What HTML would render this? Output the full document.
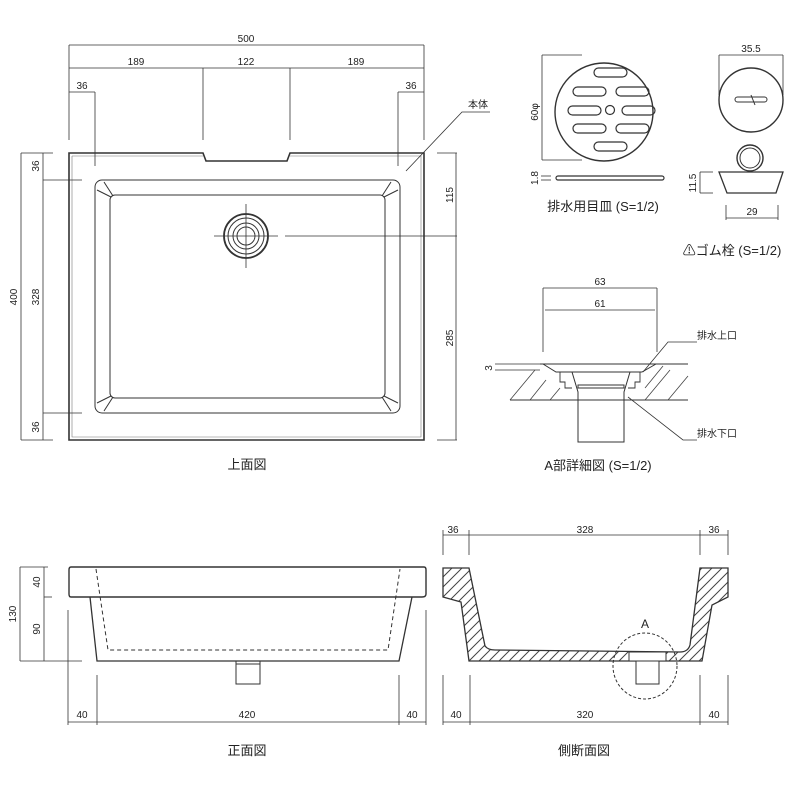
<!DOCTYPE html>
<html><head><meta charset="utf-8"><style>
html,body{margin:0;padding:0;background:#fff}
svg{display:block}
text{font-family:"Liberation Sans","Noto Sans CJK JP",sans-serif;fill:#222}
.d{font-size:10px}
.t{font-size:13px}
</style></head><body>
<svg width="800" height="800" viewBox="0 0 800 800" xmlns="http://www.w3.org/2000/svg">
<defs>
<pattern id="h" width="10" height="10" patternUnits="userSpaceOnUse">
<rect width="10" height="10" fill="#fff"/><path d="M-1 11 L11 -1 M-3 3 L3 -3 M7 13 L13 7" stroke="#444" stroke-width="1"/>
</pattern>
</defs>
<g fill="none" stroke="#333" stroke-width="1">
<!-- TOP VIEW -->
<path d="M69 153 H203 L206 161 H287 L290 153 H424 V440 H69 Z" stroke-width="1.6"/>
<path d="M72 156 H203 M290 156 H421 V437 H72 V156" stroke="#777" stroke-width="0.6"/>
<rect x="95" y="180" width="305" height="233" rx="7"/>
<rect x="110" y="195" width="275" height="203" rx="5"/>
<line x1="97" y1="190" x2="111" y2="197"/><line x1="104" y1="182" x2="113" y2="196"/>
<line x1="398" y1="190" x2="384" y2="197"/><line x1="391" y1="182" x2="382" y2="196"/>
<line x1="97" y1="403" x2="111" y2="396"/><line x1="104" y1="411" x2="113" y2="397"/>
<line x1="398" y1="403" x2="384" y2="396"/><line x1="391" y1="411" x2="382" y2="397"/>
<circle cx="246" cy="236" r="22" stroke-width="1.8"/>
<circle cx="246" cy="236" r="18"/><circle cx="246" cy="236" r="13"/><circle cx="246" cy="236" r="9"/>
<line x1="214" y1="236" x2="278" y2="236" stroke-width="0.8"/><line x1="246" y1="204" x2="246" y2="268" stroke-width="0.8"/>
<line x1="285" y1="236" x2="457" y2="236" stroke-width="0.8"/>
<g stroke-width="0.8">
<line x1="69" y1="45" x2="424" y2="45"/><line x1="69" y1="68" x2="424" y2="68"/>
<line x1="69" y1="92" x2="95" y2="92"/><line x1="398" y1="92" x2="424" y2="92"/>
<line x1="69" y1="45" x2="69" y2="140"/><line x1="424" y1="45" x2="424" y2="140"/>
<line x1="203" y1="68" x2="203" y2="140"/><line x1="290" y1="68" x2="290" y2="140"/>
<line x1="95" y1="92" x2="95" y2="166"/><line x1="398" y1="92" x2="398" y2="166"/>
<line x1="21" y1="153" x2="53" y2="153"/><line x1="21" y1="440" x2="53" y2="440"/>
<line x1="21" y1="153" x2="21" y2="440"/><line x1="43" y1="153" x2="43" y2="440"/>
<line x1="43" y1="180" x2="82" y2="180"/><line x1="43" y1="413" x2="82" y2="413"/>
<line x1="437" y1="153" x2="457" y2="153"/><line x1="437" y1="440" x2="457" y2="440"/>
<line x1="456" y1="153" x2="456" y2="440"/>
<polyline points="406,171 462,112 490,112"/>
</g>
<!-- GRATE -->
<circle cx="604" cy="112" r="49" stroke-width="1.4"/>
<g stroke-width="1.2">
<rect x="594" y="68" width="33" height="9" rx="4.5"/>
<rect x="573" y="87" width="33" height="9" rx="4.5"/><rect x="616" y="87" width="33" height="9" rx="4.5"/>
<rect x="568" y="106" width="33" height="9" rx="4.5"/><rect x="622" y="106" width="33" height="9" rx="4.5"/>
<rect x="573" y="124" width="33" height="9" rx="4.5"/><rect x="616" y="124" width="33" height="9" rx="4.5"/>
<rect x="594" y="142" width="33" height="9" rx="4.5"/>
<circle cx="610" cy="110" r="4.5"/>
<rect x="556" y="176" width="108" height="4" rx="2"/>
</g>
<g stroke-width="0.8">
<line x1="542" y1="55" x2="542" y2="160"/><line x1="542" y1="55" x2="582" y2="55"/><line x1="542" y1="160" x2="582" y2="160"/>
<line x1="541" y1="176" x2="551" y2="176"/><line x1="541" y1="180" x2="551" y2="180"/>
</g>
<!-- PLUG -->
<circle cx="751" cy="100" r="32" stroke-width="1.4"/>
<rect x="735" y="97" width="32" height="5" rx="2.5"/><line x1="751" y1="95" x2="755" y2="105"/>
<circle cx="750" cy="158" r="13" stroke-width="1.4"/><circle cx="750" cy="158" r="10"/>
<path d="M719 172 H783 L776 193 H727 Z" stroke-width="1.3"/>
<g stroke-width="0.8">
<line x1="719" y1="55" x2="783" y2="55"/><line x1="719" y1="55" x2="719" y2="95"/><line x1="783" y1="55" x2="783" y2="95"/>
<line x1="726" y1="218" x2="778" y2="218"/><line x1="726" y1="205" x2="726" y2="220"/><line x1="778" y1="205" x2="778" y2="220"/>
<line x1="700" y1="172" x2="700" y2="193"/><line x1="700" y1="172" x2="713" y2="172"/><line x1="700" y1="193" x2="713" y2="193"/>
</g>
<!-- A DETAIL -->
<g stroke-width="0.8">
<line x1="543" y1="288" x2="657" y2="288"/><line x1="543" y1="288" x2="543" y2="352"/><line x1="657" y1="288" x2="657" y2="352"/>
<line x1="545" y1="310" x2="655" y2="310"/>
<line x1="495" y1="364" x2="540" y2="364"/><line x1="495" y1="370" x2="540" y2="370"/>
<polyline points="643,372 668,342 697,342"/>
<polyline points="628,397 683,440 697,440"/>
</g>
<path d="M510 400 H688 M540 364 H688" stroke-width="1"/>
<g stroke="#444" stroke-width="0.8">
<line x1="510" y1="400" x2="535" y2="370"/><line x1="530" y1="400" x2="546" y2="380"/><line x1="550" y1="400" x2="560" y2="388"/>
<line x1="645" y1="400" x2="670" y2="370"/><line x1="668" y1="400" x2="688" y2="376"/><line x1="645" y1="388" x2="663" y2="366"/>
</g>
<path d="M543 364 L556 372 H642 L656 364" stroke-width="1"/>
<path d="M560 372 V382 H565 V388 H572 M640 372 V382 H635 V388 H628" stroke-width="0.9"/>
<path d="M572 372 L578 392 V442 H624 V392 L630 372" stroke-width="1"/>
<rect x="578" y="385" width="46" height="3"/>
<!-- FRONT VIEW -->
<path d="M71 567 H424 Q426 567 426 570 V594 Q426 597 422 597 H71 Q69 597 69 594 V570 Q69 567 71 567 Z" stroke-width="1.4"/>
<path d="M90 597 L97 661 H399 L412 597" stroke-width="1.3"/>
<path d="M96 569 L108 650 H388 L400 569" stroke-dasharray="4 3"/>
<rect x="236" y="661" width="24" height="23"/>
<line x1="236" y1="664" x2="260" y2="664"/>
<g stroke-width="0.8">
<line x1="20" y1="567" x2="48" y2="567"/><line x1="20" y1="661" x2="82" y2="661"/>
<line x1="20" y1="567" x2="20" y2="661"/><line x1="44" y1="567" x2="44" y2="661"/><line x1="44" y1="597" x2="52" y2="597"/>
<line x1="68" y1="722" x2="426" y2="722"/>
<line x1="68" y1="610" x2="68" y2="725"/><line x1="97" y1="675" x2="97" y2="725"/>
<line x1="399" y1="675" x2="399" y2="725"/><line x1="426" y1="610" x2="426" y2="725"/>
</g>
<!-- SIDE SECTION -->
<path d="M443 568 H469 L485 646 Q488 650 495 650 L680 652 Q688 652 690 645 L700 568 H728 V597 L712 605 L702 661 H469 L461 602 L443 597 Z" fill="url(#h)" stroke-width="1.3"/>
<rect x="636" y="661" width="23" height="23" fill="#fff"/>
<rect x="629" y="652" width="37" height="9" fill="#fff"/>
<ellipse cx="645" cy="666" rx="32" ry="33" stroke-dasharray="3 2"/>
<g stroke-width="0.8">
<line x1="443" y1="535" x2="728" y2="535"/>
<line x1="443" y1="530" x2="443" y2="555"/><line x1="469" y1="530" x2="469" y2="555"/>
<line x1="700" y1="530" x2="700" y2="555"/><line x1="728" y1="530" x2="728" y2="555"/>
<line x1="443" y1="722" x2="728" y2="722"/>
<line x1="443" y1="675" x2="443" y2="725"/><line x1="470" y1="675" x2="470" y2="725"/>
<line x1="700" y1="675" x2="700" y2="725"/><line x1="728" y1="675" x2="728" y2="725"/>
</g>
</g>
<!-- TEXT -->
<g class="d" text-anchor="middle">
<text x="246" y="42">500</text>
<text x="136" y="65">189</text><text x="246" y="65">122</text><text x="356" y="65">189</text>
<text x="82" y="89">36</text><text x="411" y="89">36</text>
<text transform="translate(17,297) rotate(-90)">400</text>
<text transform="translate(39,166) rotate(-90)">36</text>
<text transform="translate(39,297) rotate(-90)">328</text>
<text transform="translate(39,427) rotate(-90)">36</text>
<text transform="translate(453,195) rotate(-90)">115</text>
<text transform="translate(453,338) rotate(-90)">285</text>
<text transform="translate(538,112) rotate(-90)">60φ</text>
<text transform="translate(538,178) rotate(-90)">1.8</text>
<text x="751" y="52">35.5</text>
<text x="752" y="215">29</text>
<text transform="translate(696,183) rotate(-90)">11.5</text>
<text x="600" y="285">63</text><text x="600" y="307">61</text>
<text transform="translate(492,368) rotate(-90)">3</text>
<text transform="translate(16,614) rotate(-90)">130</text>
<text transform="translate(40,582) rotate(-90)">40</text>
<text transform="translate(40,629) rotate(-90)">90</text>
<text x="82" y="718">40</text><text x="247" y="718">420</text><text x="412" y="718">40</text>
<text x="456" y="718">40</text><text x="585" y="718">320</text><text x="714" y="718">40</text>
<text x="453" y="533">36</text><text x="585" y="533">328</text><text x="714" y="533">36</text>
</g>
<text x="468" y="108" class="d">本体</text>
<text x="697" y="339" class="d">排水上口</text>
<text x="697" y="437" class="d">排水下口</text>
<text x="645" y="628" text-anchor="middle" style="font-size:12px">A</text>
<g class="t" text-anchor="middle">
<text x="247" y="469">上面図</text>
<text x="603" y="211">排水用目皿 (S=1/2)</text>
<text x="732" y="255">⚠ゴム栓 (S=1/2)</text>
<text x="598" y="470">A部詳細図 (S=1/2)</text>
<text x="247" y="755">正面図</text>
<text x="584" y="755">側断面図</text>
</g>
</svg>
</body></html>
